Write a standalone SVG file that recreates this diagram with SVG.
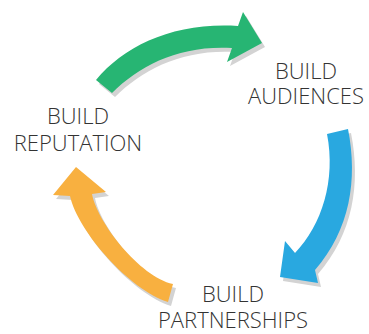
<svg xmlns="http://www.w3.org/2000/svg" width="369" height="334" viewBox="0 0 369 334">
  <style>
    .label { font-family: "Open Sans", "Liberation Sans", sans-serif; font-weight: 300; font-size: 22px; fill: #333333; text-anchor: middle; }
    .shadow { fill: #d3d3d3; }
  </style>
  <rect width="369" height="334" fill="#ffffff"/>
  <defs>
    <!-- curved block arrows of the cycle -->
    <path id="arrow-green" d="M96,80 C125,45 175,22 238,26 L243,12 L262,43 L227,62 L232,48 C180,45 140,65 112,93 Z"/>
    <path id="arrow-blue" d="M327,134 L348,129 C358,180 350,230 315,270 L318,283 L280,277 L285,241 L295,253 C322,225 336,180 327,134 Z"/>
    <path id="arrow-orange" d="M76,167 L106,192 L92,194 C97,222 140,277 173,284 L168,302 C130,290 78,232 70,196 L53,195 Z"/>
  </defs>
  <g id="connectors">
    <g transform="translate(3,4)" class="shadow">
      <use href="#arrow-green"/>
      <use href="#arrow-blue"/>
      <use href="#arrow-orange"/>
    </g>
    <use href="#arrow-green" fill="#27b573"/>
    <use href="#arrow-blue" fill="#29a8e0"/>
    <use href="#arrow-orange" fill="#f8b040"/>
  </g>
  <g id="node-audiences">
    <text class="label"><tspan x="306" y="79">BUILD</tspan><tspan x="306" y="104">AUDIENCES</tspan></text>
  </g>
  <g id="node-reputation">
    <text class="label"><tspan x="78" y="124">BUILD</tspan><tspan x="78" y="151">REPUTATION</tspan></text>
  </g>
  <g id="node-partnerships">
    <text class="label"><tspan x="233" y="302">BUILD</tspan><tspan x="233" y="328">PARTNERSHIPS</tspan></text>
  </g>
</svg>
